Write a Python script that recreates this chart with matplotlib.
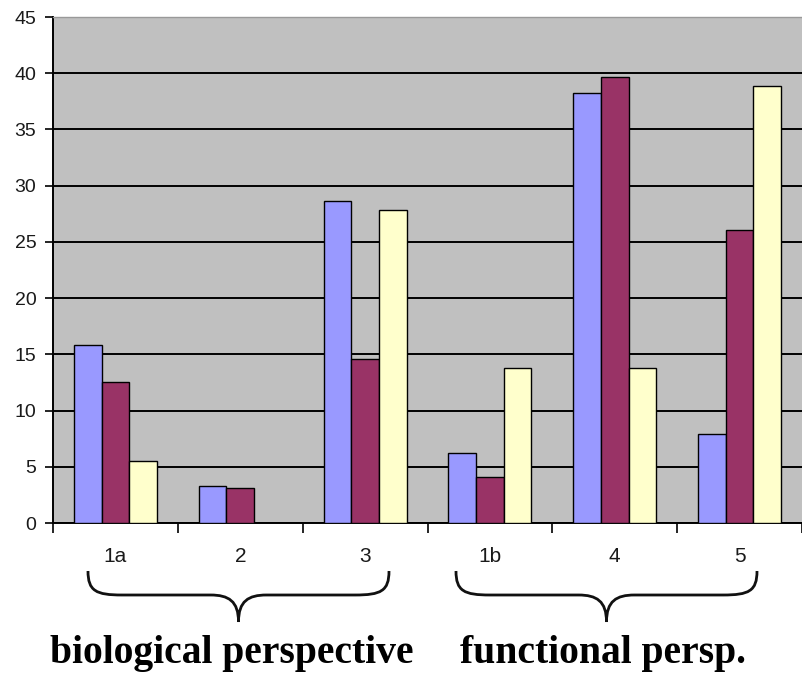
import matplotlib
matplotlib.use("Agg")
import matplotlib.pyplot as plt
from matplotlib.path import Path
from matplotlib.patches import PathPatch
import numpy as np

categories = ["1a", "2", "3", "1b", "4", "5"]
series_a = [15.8, 3.3, 28.6, 6.25, 38.2, 7.9]
series_b = [12.5, 3.1, 14.6, 4.1, 39.7, 26.1]
series_c = [5.5, 0.0, 27.8, 13.8, 13.8, 38.9]
group_labels = ["biological perspective", "functional persp."]

colors = ["#9999FF", "#993366", "#FFFFCC"]

W, H = 802, 673
fig = plt.figure(figsize=(W / 100, H / 100), dpi=100)
ax = fig.add_axes([53 / W, 1 - 523 / H, (W - 53) / W, (523 - 17) / H])
ax.set_facecolor("#C0C0C0")

x = np.arange(len(categories))
bw = 0.222
for i, (vals, c) in enumerate(zip([series_a, series_b, series_c], colors)):
    ax.bar(x + (i - 1) * bw, vals, width=bw, color=c, edgecolor="#000000",
           linewidth=1.0, zorder=3)

ax.set_xlim(-0.5, len(categories) - 0.5)
ax.set_ylim(0, 45)
ax.set_yticks(np.arange(0, 46, 5))
ax.yaxis.grid(True, color="#000000", linewidth=1.4, zorder=1)
ax.set_axisbelow(True)

# category boundary ticks with labels placed in each group's centre
ax.set_xticks(np.arange(-0.5, len(categories) - 0.4, 1.0))
ax.set_xticklabels([])
ax.set_xticks(x, minor=True)
ax.set_xticklabels(categories, minor=True, fontsize=15,
                   fontfamily="Liberation Sans", color="#1a1a1a")
ax.tick_params(axis="x", which="minor", length=0, pad=17)
ax.tick_params(axis="x", which="major", length=7, width=1.2, direction="out")
ax.tick_params(axis="y", length=6, width=1.2, direction="out", pad=6,
               labelsize=14)
for lbl in ax.get_yticklabels():
    lbl.set_fontfamily("Liberation Sans")
    lbl.set_color("#1a1a1a")

for s in ["top", "right"]:
    ax.spines[s].set_visible(False)
ax.spines["left"].set_linewidth(1.4)
ax.spines["bottom"].set_linewidth(1.4)
ax.plot([0, 1], [1, 1], transform=ax.transAxes, color="#999999",
        linewidth=1.0, clip_on=False, zorder=4)


def brace(x0, x1, ytop, ymid, ybot):
    """Curly brace opening upward, tip pointing down, in pixel coords."""
    xc = (x0 + x1) / 2
    r = 34
    pts = [
        (x0, ytop),
        (x0, ymid - 4), (x0 + 8, ymid), (x0 + r, ymid),
        (xc - 28, ymid),
        (xc - 10, ymid), (xc, ymid + 6), (xc, ybot),
        (xc, ymid + 6), (xc + 10, ymid), (xc + 28, ymid),
        (x1 - r, ymid),
        (x1 - 8, ymid), (x1, ymid - 4), (x1, ytop),
    ]
    codes = [Path.MOVETO,
             Path.CURVE4, Path.CURVE4, Path.CURVE4,
             Path.LINETO,
             Path.CURVE4, Path.CURVE4, Path.CURVE4,
             Path.CURVE4, Path.CURVE4, Path.CURVE4,
             Path.LINETO,
             Path.CURVE4, Path.CURVE4, Path.CURVE4]
    verts = [(px / W, 1 - py / H) for px, py in pts]
    patch = PathPatch(Path(verts, codes), transform=fig.transFigure,
                      facecolor="none", edgecolor="#111111", linewidth=2.0)
    fig.add_artist(patch)


brace(88, 389, 571, 595, 622)
brace(456, 757, 571, 595, 622)

fig.text(232 / W, 1 - 663 / H, group_labels[0], ha="center", va="baseline",
         fontsize=28.5, fontweight="bold", fontfamily="Liberation Serif",
         color="#000000")
fig.text(603 / W, 1 - 663 / H, group_labels[1], ha="center", va="baseline",
         fontsize=28.5, fontweight="bold", fontfamily="Liberation Serif",
         color="#000000")

fig.savefig("out.png", dpi=100, facecolor="white")
